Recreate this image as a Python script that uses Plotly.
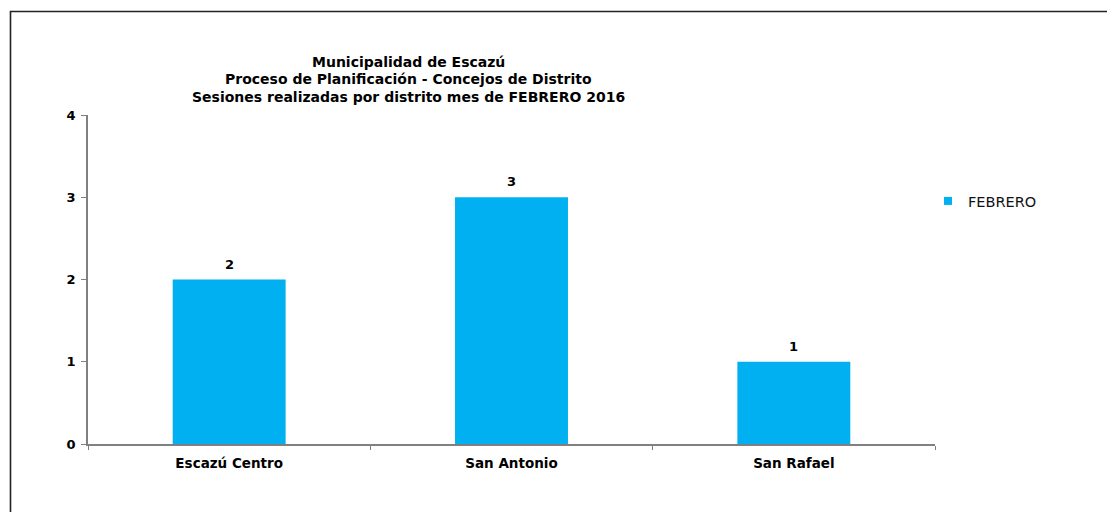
import plotly.graph_objects as go

categories = ["Escazú Centro", "San Antonio", "San Rafael"]
febrero = [2, 3, 1]
y_ticks = [0, 1, 2, 3, 4]
title_lines = [
    "Municipalidad de Escazú",
    "Proceso de Planificación - Concejos de Distrito",
    "Sesiones realizadas por distrito mes de FEBRERO 2016",
]

W, H = 1107, 512
L, R, T, B = 88, 935, 115, 444
pw, ph = R - L, B - T
BOLD = "DejaVu Sans, Liberation Sans, Arial"
BAR_COLOR = "#00B0F0"

fig = go.Figure()
fig.add_trace(go.Bar(
    x=categories, y=febrero, name="FEBRERO",
    marker=dict(color=BAR_COLOR, line=dict(width=0)),
    width=0.4, showlegend=False,
))
# legend-only entry with a small square key
fig.add_trace(go.Scatter(
    x=[None], y=[None], mode="markers", name="FEBRERO",
    marker=dict(symbol="square", size=8, color=BAR_COLOR),
))

annotations = []
for c, v in zip(categories, febrero):
    annotations.append(dict(
        x=c, y=v, xref="x", yref="y", text=f"<b>{v}</b>", showarrow=False,
        yanchor="bottom", yshift=6,
        font=dict(family=BOLD, size=13, color="black"),
    ))
for i, line in enumerate(title_lines):
    annotations.append(dict(
        text=f"<b>{line}</b>", x=(408 - L) / pw, y=(B - (62 + 17.5 * i)) / ph,
        xref="paper", yref="paper", xanchor="center", yanchor="middle",
        showarrow=False, font=dict(family=BOLD, size=14, color="black"),
    ))

fig.update_layout(
    width=W, height=H,
    margin=dict(l=L, r=W - R, t=T, b=H - B),
    paper_bgcolor="white", plot_bgcolor="white",
    font=dict(family=BOLD, size=13, color="black"),
    showlegend=True,
    legend=dict(x=(928 - L) / pw, y=(B - 201) / ph, xanchor="left", yanchor="middle",
                font=dict(family="DejaVu Sans, Liberation Sans, Arial", size=14.5, color="#111111"),
                itemwidth=30, bgcolor="rgba(0,0,0,0)"),
    annotations=annotations,
    shapes=[dict(type="rect", xref="paper", yref="paper",
                 x0=(10.5 - L) / pw, x1=(1130 - L) / pw,
                 y0=(B - 540) / ph, y1=(B - 11.5) / ph,
                 line=dict(color="#222222", width=1.6), fillcolor="rgba(0,0,0,0)")],
)

fig.update_yaxes(range=[0, 4], tickvals=y_ticks, ticktext=[f"<b>{v}</b>" for v in y_ticks],
                 showgrid=False, zeroline=False, showline=True, linecolor="#808080", linewidth=1.5,
                 ticks="outside", ticklen=5, tickcolor="#808080", tickwidth=1,
                 ticklabelstandoff=3,
                 tickfont=dict(family=BOLD, size=13, color="black"))
fig.update_xaxes(tickvals=categories, ticktext=[f"<b>{c}</b>" for c in categories],
                 showgrid=False, showline=True, linecolor="#808080", linewidth=1.5,
                 ticks="outside", ticklen=4, tickcolor="#808080", tickwidth=1,
                 tickson="boundaries", ticklabelstandoff=6,
                 tickfont=dict(family=BOLD, size=13.5, color="black"))

fig.write_html("out.html", config={"displayModeBar": False},
               post_script="document.body.style.margin='0';document.body.style.overflow='hidden';")
